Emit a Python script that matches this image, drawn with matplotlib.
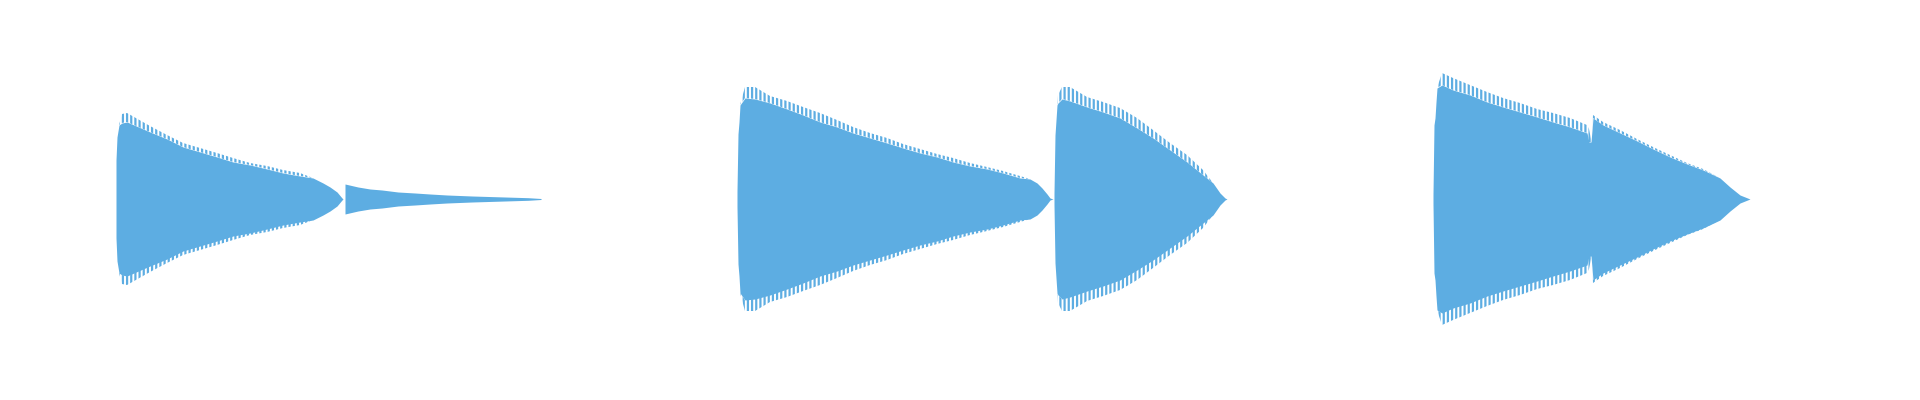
import numpy as np
import matplotlib
matplotlib.use('Agg')
import matplotlib.pyplot as plt

# time in seconds, amplitude as fraction of full scale
# clip 1
t1a = [1.16, 1.17, 1.19, 1.22, 1.27, 1.50, 1.67, 1.83, 2.00, 2.17, 2.33, 2.50, 2.67, 2.83, 3.00, 3.13, 3.23, 3.30, 3.37, 3.42, 3.43]
peak1a = [0.195, 0.31, 0.37, 0.425, 0.43, 0.365, 0.32, 0.28, 0.255, 0.23, 0.205, 0.18, 0.165, 0.145, 0.13, 0.105, 0.08, 0.06, 0.035, 0.005, 0.0]
body1a = [0.195, 0.31, 0.37, 0.38, 0.385, 0.335, 0.30, 0.26, 0.235, 0.21, 0.185, 0.17, 0.15, 0.13, 0.115, 0.105, 0.08, 0.06, 0.035, 0.005, 0.0]
t1b = [3.45, 3.58, 3.70, 3.82, 3.98, 4.15, 4.30, 4.47, 4.72, 5.05, 5.28, 5.41]
body1b = [0.075, 0.06, 0.05, 0.045, 0.035, 0.03, 0.025, 0.02, 0.015, 0.01, 0.0065, 0.0025]

# clip 2
t2a = [7.37, 7.38, 7.39, 7.40, 7.45, 7.55, 7.70, 7.87, 8.03, 8.20, 8.37, 8.53, 8.70, 8.87, 9.03, 9.20, 9.37, 9.53, 9.70, 9.87, 10.03, 10.20, 10.30, 10.37, 10.42, 10.47, 10.50, 10.53]
peak2a = [0.04, 0.325, 0.385, 0.47, 0.56, 0.56, 0.515, 0.49, 0.46, 0.43, 0.395, 0.36, 0.33, 0.305, 0.275, 0.25, 0.225, 0.205, 0.18, 0.16, 0.14, 0.115, 0.10, 0.08, 0.055, 0.025, 0.005, 0.0]
body2a = [0.04, 0.325, 0.385, 0.47, 0.505, 0.50, 0.48, 0.45, 0.42, 0.385, 0.36, 0.33, 0.305, 0.28, 0.255, 0.23, 0.21, 0.185, 0.165, 0.15, 0.13, 0.105, 0.10, 0.08, 0.055, 0.025, 0.005, 0.0]
t2b = [10.54, 10.55, 10.57, 10.58, 10.62, 10.70, 10.87, 11.03, 11.20, 11.37, 11.53, 11.70, 11.87, 12.03, 12.13, 12.20, 12.25, 12.27]
peak2b = [0.03, 0.32, 0.47, 0.52, 0.56, 0.56, 0.51, 0.485, 0.455, 0.405, 0.345, 0.28, 0.22, 0.145, 0.08, 0.03, 0.005, 0.0]
body2b = [0.03, 0.32, 0.47, 0.48, 0.50, 0.49, 0.46, 0.435, 0.405, 0.355, 0.305, 0.245, 0.185, 0.12, 0.08, 0.03, 0.005, 0.0]

# clip 3
t3 = [14.33, 14.34, 14.35, 14.36, 14.37, 14.42, 14.53, 14.70, 14.87, 15.03, 15.20, 15.37, 15.53, 15.70, 15.87, 15.89, 15.91,
      15.93, 16.03, 16.20, 16.37, 16.53, 16.70, 16.87, 17.03, 17.20, 17.30, 17.40, 17.50]
peak3 = [0.025, 0.37, 0.405, 0.485, 0.555, 0.63, 0.605, 0.57, 0.535, 0.505, 0.48, 0.45, 0.43, 0.405, 0.37, 0.35, 0.30,
         0.42, 0.385, 0.345, 0.30, 0.26, 0.22, 0.18, 0.15, 0.105, 0.06, 0.02, 0.0]
body3 = [0.025, 0.37, 0.405, 0.485, 0.555, 0.57, 0.545, 0.52, 0.485, 0.46, 0.435, 0.41, 0.385, 0.36, 0.33, 0.285, 0.285,
         0.405, 0.37, 0.33, 0.29, 0.25, 0.21, 0.175, 0.145, 0.105, 0.06, 0.02, 0.0]

color = '#5dade2'
plt.rcParams['hatch.color'] = color
plt.rcParams['hatch.linewidth'] = 1.6

fig = plt.figure(figsize=(19.2, 4), dpi=100)
ax = fig.add_axes([0, 0, 1, 1])

clips = [(t1a, peak1a, body1a), (t1b, body1b, body1b), (t2a, peak2a, body2a),
         (t2b, peak2b, body2b), (t3, peak3, body3)]
for t, peak, body in clips:
    t = np.array(t)
    peak = np.array(peak)
    body = np.array(body)
    ax.fill_between(t, -body, body, color=color, lw=0)
    # ragged tips of the waveform
    ax.fill_between(t, body, peak, facecolor='none', edgecolor=color, hatch='||||', lw=0)
    ax.fill_between(t, -peak, -body, facecolor='none', edgecolor=color, hatch='||||', lw=0)

ax.set_xlim(0, 19.2)
ax.set_ylim(-1.005, 0.995)
ax.axis('off')
fig.savefig('out.png', dpi=100, facecolor='white')
